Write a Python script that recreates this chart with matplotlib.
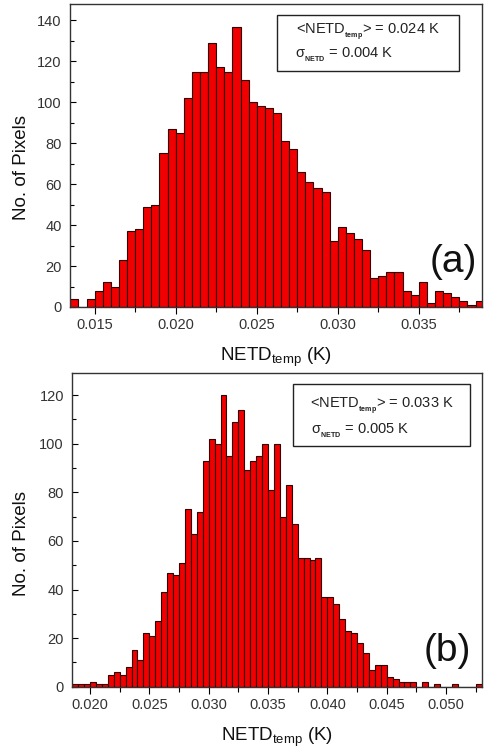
import matplotlib
matplotlib.use("Agg")
import matplotlib.pyplot as plt
import numpy as np
from matplotlib.ticker import MultipleLocator, FormatStrFormatter
from matplotlib.patches import Rectangle

plt.rcParams['font.family'] = ['Liberation Sans', 'DejaVu Sans']
plt.rcParams['mathtext.fontset'] = 'custom'
plt.rcParams['mathtext.rm'] = 'Liberation Sans'
plt.rcParams['mathtext.bf'] = 'Liberation Sans:bold'
plt.rcParams['mathtext.it'] = 'Liberation Sans'

# ---------------- data ----------------
bin_width = 0.0005
start_a = 0.0135
counts_a = [4, 0, 4, 8, 12, 10, 23, 37, 38, 49, 50, 75, 87, 85, 102, 115, 115, 129,
            117, 115, 137, 111, 100, 98, 97, 95, 81, 77, 66, 61, 58, 56, 32, 39, 36,
            33, 28, 14, 15, 17, 17, 8, 6, 12, 2, 8, 7, 5, 3, 1, 3]
start_b = 0.0185
counts_b = [1, 1, 1, 2, 1, 1, 5, 6, 5, 8, 15, 11, 22, 21, 27, 39, 47, 46, 51, 73,
            63, 72, 93, 102, 100, 120, 95, 109, 114, 89, 93, 95, 100, 81, 100, 70,
            83, 67, 53, 53, 52, 53, 37, 37, 34, 28, 23, 22, 18, 14, 7, 9, 9, 4, 3,
            2, 2, 2, 0, 2, 0, 1, 0, 0, 1, 0, 0, 0, 1]

xticks_a = [0.015, 0.020, 0.025, 0.030, 0.035]
xticks_b = [0.020, 0.025, 0.030, 0.035, 0.040, 0.045, 0.050]
box_a = [r'<NETD$_{_{\mathbf{temp}}}$> = 0.024 K', r'σ$_{_{\mathbf{NETD}}}$ = 0.004 K']
box_b = [r'<NETD$_{_{\mathbf{temp}}}$> = 0.033 K', r'σ$_{_{\mathbf{NETD}}}$ = 0.005 K']
panel_labels = ['(a)', '(b)']

W, H = 486, 751
fig = plt.figure(figsize=(W / 100, H / 100), dpi=100)

def rect(l, t, r, b):
    return [l / W, 1 - b / H, (r - l) / W, (b - t) / H]

pa = (70, 4, 482, 307)
pb = (72.3, 373.3, 482.3, 686.7)
ax_a = fig.add_axes(rect(*pa))
ax_b = fig.add_axes(rect(*pb))

def draw(ax, start, counts, xlim, ylim, xticks, ymaj, ylab_xy):
    edges = start + bin_width * np.arange(len(counts))
    ax.bar(edges, counts, width=bin_width, align='edge', color='#f00000',
           edgecolor='#300000', linewidth=0.8)
    ax.set_xlim(*xlim)
    ax.set_ylim(*ylim)
    ax.set_xticks(xticks)
    ax.xaxis.set_major_formatter(FormatStrFormatter('%.3f'))
    ax.xaxis.set_minor_locator(MultipleLocator(0.0025))
    ax.yaxis.set_major_locator(MultipleLocator(ymaj))
    ax.yaxis.set_minor_locator(MultipleLocator(ymaj / 2))
    ax.tick_params(axis='y', which='both', direction='in', labelsize=10.5,
                   labelcolor='#333333', pad=6)
    ax.tick_params(axis='y', which='major', length=4.5, width=0.8)
    ax.tick_params(axis='y', which='minor', length=3, width=0.8)
    ax.tick_params(axis='x', which='both', direction='out', labelsize=10.5,
                   labelcolor='#333333', pad=3)
    ax.tick_params(axis='x', which='major', length=5, width=0.8)
    ax.tick_params(axis='x', which='minor', length=3.5, width=0.8)
    for s in ax.spines.values():
        s.set_color('#333333')
        s.set_linewidth(1.0)
    ax.set_ylabel('No. of Pixels', fontsize=13.5, color='#111111')
    ax.yaxis.set_label_coords(*ylab_xy)
    ax.set_xlabel(r'NETD$_{\mathrm{temp}}$ (K)', fontsize=13.5, color='#111111',
                  labelpad=10)

def add_box(ax, axpix, box_rect, lines, line_y):
    al, at, ar, ab = axpix
    bl, bt, br, bb = box_rect
    tr = ax.transAxes
    fx = lambda px: (px - al) / (ar - al)
    fy = lambda py: (ab - py) / (ab - at)
    ax.add_patch(Rectangle((fx(bl), fy(bb)), fx(br) - fx(bl), fy(bt) - fy(bb),
                           transform=tr, facecolor='white', edgecolor='#222222',
                           linewidth=1.0, zorder=5))
    cx = (fx(bl) + fx(br)) / 2
    ax.text(cx, fy(line_y[0]), lines[0], transform=tr, ha='center', va='baseline',
            fontsize=10.5, color='#222222', zorder=6)
    ax.text(fx(bl + 18), fy(line_y[1]), lines[1], transform=tr, ha='left', va='baseline',
            fontsize=10.5, color='#222222', zorder=6)

def panel_text(ax, axpix, xy, s):
    al, at, ar, ab = axpix
    fx = (xy[0] - al) / (ar - al)
    fy = (ab - xy[1]) / (ab - at)
    ax.text(fx, fy, s, transform=ax.transAxes, ha='center', va='center',
            fontsize=28, color='#111111')

draw(ax_a, start_a, counts_a, (0.01348, 0.0389), (0, 148), xticks_a, 20, (-0.097, 0.459))
draw(ax_b, start_b, counts_b, (0.01851, 0.05306), (0, 129), xticks_b, 20, (-0.103, 0.457))

add_box(ax_a, pa, (277, 15, 459, 71), box_a, (34, 58))
add_box(ax_b, pb, (293, 384, 470, 446), box_b, (408, 434))
panel_text(ax_a, pa, (453, 262), panel_labels[0])
panel_text(ax_b, pb, (447, 651), panel_labels[1])

fig.savefig('out.png', dpi=100)
